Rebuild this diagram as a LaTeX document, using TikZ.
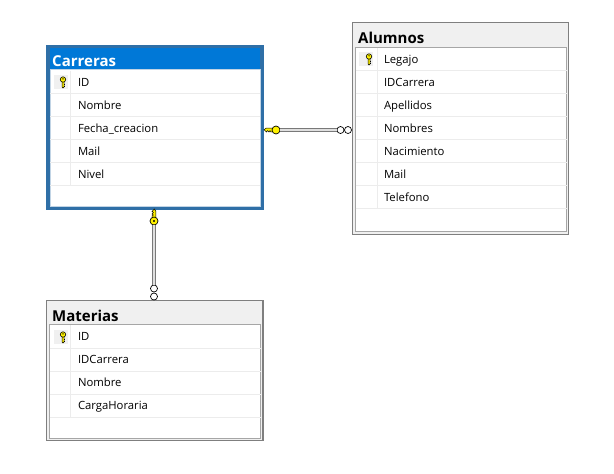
\documentclass[tikz,border=0pt]{standalone}
\usepackage{fontspec}
\setmainfont{Open Sans}
\usetikzlibrary{positioning}
\definecolor{selblue}{HTML}{0078D7}
\definecolor{selborder}{HTML}{2F6FA7}
\definecolor{headgray}{HTML}{F0F0F0}
\definecolor{framegray}{HTML}{7F7F7F}
\definecolor{bodygray}{HTML}{A6A6A6}
\definecolor{sepgray}{HTML}{ECECEC}
\definecolor{keyyellow}{HTML}{FFF200}
\tikzset{x=1pt, y=-1pt, node distance=0pt,
	frame/.style={rectangle, anchor=north west, inner sep=0pt, outer sep=0pt, fill=framegray},
	body/.style={rectangle, anchor=north west, inner sep=0pt, outer sep=0pt, fill=white, draw=bodygray, line width=0.8pt},
	head/.style={rectangle, anchor=north west, inner sep=0pt, outer sep=0pt, fill=headgray},
	title/.style={anchor=base west, inner sep=0pt, font=\bfseries\fontsize{15}{16}\selectfont},
	row/.style={rectangle, inner sep=0pt, outer sep=0pt, text width=182pt, text height=10pt, text depth=2pt, minimum height=23pt, align=left, font=\fontsize{11.3}{13}\selectfont},
	sep/.style={draw=sepgray, line width=0.8pt},
	keybox/.style={rectangle, inner sep=0pt, outer sep=0pt, minimum size=14pt, fill=headgray},
	ring/.style={circle, draw=black, fill=keyyellow, line width=0.7pt, inner sep=0pt, outer sep=0pt, minimum size=#1},
	crow/.style={circle, draw=black, fill=white, line width=0.7pt, inner sep=0pt, outer sep=0pt, minimum size=7pt},
	rel/.style={draw=gray!95!black, line width=4.4pt},
	relcore/.style={draw=white!75!gray, line width=1.4pt},
	keyrow/.pic={
		\draw[black, fill=keyyellow, line width=0.5pt] (-1,-1) -- (1,-1) -- (1,5) -- (0,6) -- (-1,5) -- cycle;
		\draw[black, line width=0.5pt] (1,2) -- (2.2,2) (1,4) -- (2.2,4);
		\draw[black, fill=keyyellow, line width=0.6pt] (0,-2.5) circle (2.7);
		\fill[black] (0,-3.2) circle (0.7);
	},
	keyrel/.pic={
		\draw[black, fill=keyyellow, line width=0.5pt] (0,-1.8) -- (-10,-1.8) -- (-12,-0.3) -- (-9.5,2) -- (-8.5,0.6) -- (-7,2) -- (-6,0.6) -- (-5,2) -- (0,1.8) -- cycle;
	}
}

\begin{document}
\begin{tikzpicture}
	\useasboundingbox (0,0) rectangle (614,474);

	% Carreras
	\node[frame, fill=selborder, minimum width=217.5pt, minimum height=165pt] (carreras) at (46,45) {};
	\node[head, fill=selblue, minimum width=210.5pt, minimum height=22pt] (carrerasHead) at (49.5,48) {};
	\node[body, draw=white!70!selborder, minimum width=210pt, minimum height=137pt] (carrerasBody) at (50,69.5) {};
	\node[title, text=white, above right=3.5pt and 2pt of carrerasBody.north west, anchor=base west] (carrerasTitle) {Carreras};
	\node[row, anchor=north west] (carrerasID) at (78,70.5) {ID};
	\node[row, below=of carrerasID] (carrerasNombre) {Nombre};
	\node[row, below=of carrerasNombre] (carrerasFecha) {Fecha\_creacion};
	\node[row, below=of carrerasFecha] (carrerasMail) {Mail};
	\node[row, below=of carrerasMail] (carrerasNivel) {Nivel};
	\draw[sep] (carrerasID.south -| carrerasBody.west) -- (carrerasID.south -| carrerasBody.east);
	\draw[sep] (carrerasNombre.south -| carrerasBody.west) -- (carrerasNombre.south -| carrerasBody.east);
	\draw[sep] (carrerasFecha.south -| carrerasBody.west) -- (carrerasFecha.south -| carrerasBody.east);
	\draw[sep] (carrerasMail.south -| carrerasBody.west) -- (carrerasMail.south -| carrerasBody.east);
	\draw[sep] (carrerasNivel.south -| carrerasBody.west) -- (carrerasNivel.south -| carrerasBody.east);
	\draw[sep] ([xshift=-8pt]carrerasID.north west) -- ([xshift=-8pt]carrerasNivel.south west);
	\node[keybox] (carrerasKeybox) at (60.5,82) {};
	\pic at (63,82) {keyrow};

	% Alumnos
	\node[frame, minimum width=217pt, minimum height=213pt] (alumnos) at (352,22) {};
	\node[head, minimum width=214.6pt, minimum height=210.6pt] (alumnosHead) at (353.2,23.2) {};
	\node[body, minimum width=211pt, minimum height=184pt] (alumnosBody) at (355.5,47) {};
	\node[title, above right=3.5pt and 2.5pt of alumnosBody.north west, anchor=base west] (alumnosTitle) {Alumnos};
	\node[row, anchor=north west] (alumnosLegajo) at (384,47.5) {Legajo};
	\node[row, below=of alumnosLegajo] (alumnosIDCarrera) {IDCarrera};
	\node[row, below=of alumnosIDCarrera] (alumnosApellidos) {Apellidos};
	\node[row, below=of alumnosApellidos] (alumnosNombres) {Nombres};
	\node[row, below=of alumnosNombres] (alumnosNacimiento) {Nacimiento};
	\node[row, below=of alumnosNacimiento] (alumnosMail) {Mail};
	\node[row, below=of alumnosMail] (alumnosTelefono) {Telefono};
	\draw[sep] (alumnosLegajo.south -| alumnosBody.west) -- (alumnosLegajo.south -| alumnosBody.east);
	\draw[sep] (alumnosIDCarrera.south -| alumnosBody.west) -- (alumnosIDCarrera.south -| alumnosBody.east);
	\draw[sep] (alumnosApellidos.south -| alumnosBody.west) -- (alumnosApellidos.south -| alumnosBody.east);
	\draw[sep] (alumnosNombres.south -| alumnosBody.west) -- (alumnosNombres.south -| alumnosBody.east);
	\draw[sep] (alumnosNacimiento.south -| alumnosBody.west) -- (alumnosNacimiento.south -| alumnosBody.east);
	\draw[sep] (alumnosMail.south -| alumnosBody.west) -- (alumnosMail.south -| alumnosBody.east);
	\draw[sep] (alumnosTelefono.south -| alumnosBody.west) -- (alumnosTelefono.south -| alumnosBody.east);
	\draw[sep] ([xshift=-7pt]alumnosLegajo.north west) -- ([xshift=-7pt]alumnosTelefono.south west);
	\node[keybox] (alumnosKeybox) at (366,59) {};
	\pic at (369,59) {keyrow};

	% Materias
	\node[frame, minimum width=217.5pt, minimum height=141pt] (materias) at (46,300) {};
	\node[head, minimum width=215.1pt, minimum height=138.6pt] (materiasHead) at (47.2,301.2) {};
	\node[body, minimum width=211pt, minimum height=113.5pt] (materiasBody) at (49.5,324.5) {};
	\node[title, above right=3.5pt and 2.5pt of materiasBody.north west, anchor=base west] (materiasTitle) {Materias};
	\node[row, anchor=north west] (materiasID) at (78,325) {ID};
	\node[row, below=of materiasID] (materiasIDCarrera) {IDCarrera};
	\node[row, below=of materiasIDCarrera] (materiasNombre) {Nombre};
	\node[row, below=of materiasNombre] (materiasCarga) {CargaHoraria};
	\draw[sep] (materiasID.south -| materiasBody.west) -- (materiasID.south -| materiasBody.east);
	\draw[sep] (materiasIDCarrera.south -| materiasBody.west) -- (materiasIDCarrera.south -| materiasBody.east);
	\draw[sep] (materiasNombre.south -| materiasBody.west) -- (materiasNombre.south -| materiasBody.east);
	\draw[sep] (materiasCarga.south -| materiasBody.west) -- (materiasCarga.south -| materiasBody.east);
	\draw[sep] ([xshift=-7.5pt]materiasID.north west) -- ([xshift=-7.5pt]materiasCarga.south west);
	\node[keybox] (materiasKeybox) at (60.5,337) {};
	\pic at (63,337) {keyrow};

	% relaciones
	\node[crow] (crowAlumnosA) at (348,130) {};
	\node[crow] (crowAlumnosB) at (340.5,130) {};
	\node[crow] (crowMateriasA) at (154,296.5) {};
	\node[crow] (crowMateriasB) at (154,288.5) {};
	\pic at (276,130) {keyrel};
	\pic[rotate=-90] at (154,221) {keyrel};
	\node[ring=8pt] (ringAlumnos) at (276,130) {};
	\node[ring=8pt] (ringMaterias) at (154,221) {};
	\fill[black] (ringMaterias) circle (1.2);
	\draw[rel] (ringAlumnos) -- (crowAlumnosB);
	\draw[relcore] (ringAlumnos) -- (crowAlumnosB);
	\draw[rel] (ringMaterias) -- (crowMateriasB);
	\draw[relcore] (ringMaterias) -- (crowMateriasB);
\end{tikzpicture}
\end{document}
